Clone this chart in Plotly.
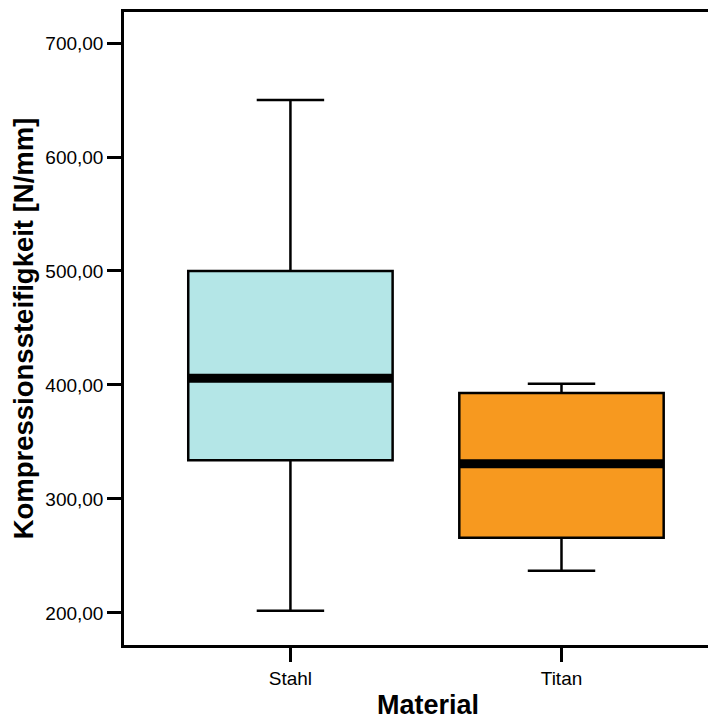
import plotly.graph_objects as go

categories = ["Stahl", "Titan"]
q1 = [334.0, 266.0]
median = [406.0, 331.0]
q3 = [500.0, 393.0]
lower = [202.0, 237.0]
upper = [650.0, 401.0]
colors = ["#B4E6E7", "#F7991F"]
y_ticks = [200, 300, 400, 500, 600, 700]

BOX_W = 0.754
fig = go.Figure()
for i, c in enumerate(categories):
    fig.add_trace(go.Box(
        x=[i], q1=[q1[i]], median=[median[i]], q3=[q3[i]],
        lowerfence=[lower[i]], upperfence=[upper[i]],
        fillcolor=colors[i], line=dict(color="black", width=2.5),
        width=BOX_W, whiskerwidth=0.33, boxpoints=False, showlegend=False,
        hoverinfo="skip",
    ))
    fig.add_shape(type="line", x0=i - BOX_W / 2, x1=i + BOX_W / 2,
                  y0=median[i], y1=median[i], xref="x", yref="y",
                  line=dict(color="black", width=9))

fig.update_layout(
    width=708, height=711,
    margin=dict(l=116, r=0, t=4, b=74),
    plot_bgcolor="white", paper_bgcolor="white",
    separators=",.",
    font=dict(family="Liberation Sans, Arial", color="black", size=18),
)
fig.add_annotation(text="<b>Material</b>", xref="paper", yref="paper",
                   x=0.513, y=-0.094, xanchor="center", yanchor="middle",
                   showarrow=False, font=dict(size=27))
fig.update_xaxes(
    range=[-0.614, 1.57], tickvals=[0, 1], ticktext=categories,
    showline=True, linecolor="black", linewidth=2.5, mirror=True,
    ticks="outside", ticklen=14, tickwidth=2.5, tickcolor="black",
    showgrid=False, zeroline=False, tickfont=dict(size=19),
)
fig.update_yaxes(
    range=[171.9, 727.2], tickvals=y_ticks, tickformat=".2f",
    showline=True, linecolor="black", linewidth=2.5,
    ticks="outside", ticklen=14, tickwidth=2.5, tickcolor="black",
    showgrid=False, zeroline=False, tickfont=dict(size=19),
    title=dict(text="<b>Kompressionssteifigkeit [N/mm]</b>", font=dict(size=27.5), standoff=5),
)
fig.write_html("out.html")
